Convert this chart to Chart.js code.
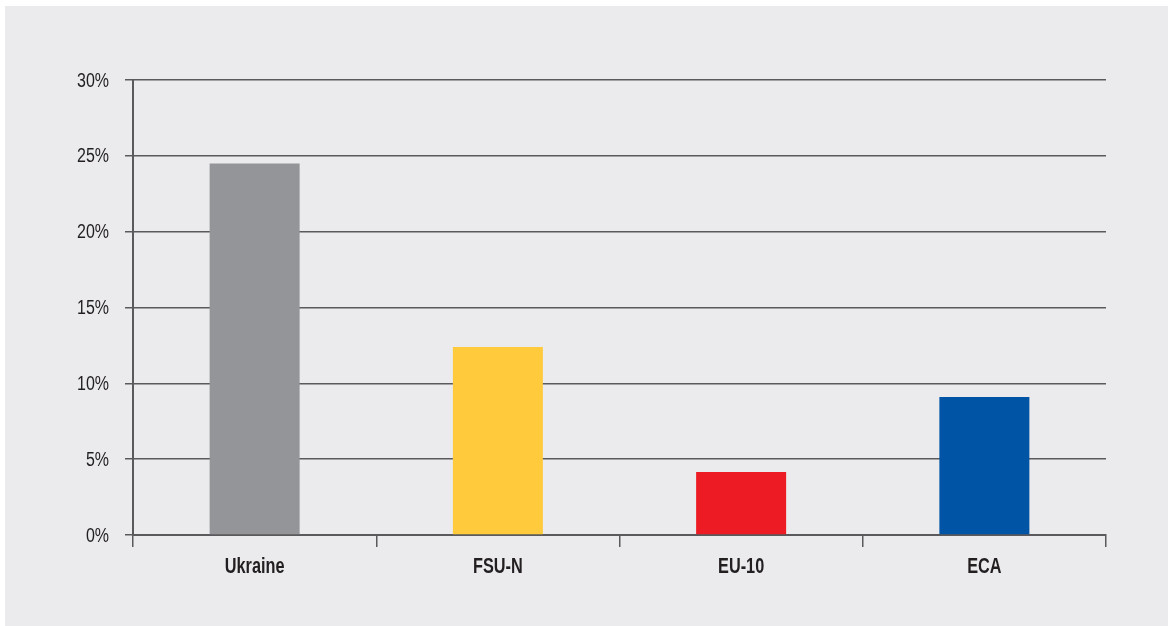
<!DOCTYPE html>
<html lang="en">
<head>
    <meta charset="UTF-8">
    <script src="https://cdn.jsdelivr.net/npm/chart.js"></script>
    <title>Share by region</title>
    <style>
        body { margin: 0; background: #ffffff; }
        .wrap { padding: 6px 0 0 5px; }
        #bars { display: block; background: #ebebed; }
    </style>
</head>
<body>
    <div class="wrap">
        <canvas id="bars" width="1163" height="620"></canvas>
    </div>

    <script>
        const regions = ['Ukraine', 'FSU-N', 'EU-10', 'ECA'];
        const shares = [24.5, 12.4, 4.15, 9.1];
        const barColors = ['#939598', '#ffcb3d', '#ed1c24', '#0054a6'];
        const yTicks = [0, 5, 10, 15, 20, 25, 30];

        const lineColor = '#5a5a5c';
        const textColor = '#231f20';
        const fontFamily = '"Liberation Sans", Arial, sans-serif';

        // tick labels drawn squeezed sideways, to get a condensed look
        const narrowLabels = {
            id: 'narrowLabels',
            afterDraw(chart) {
                const c = chart.ctx;
                const area = chart.chartArea;
                const x = chart.scales.x;
                const y = chart.scales.y;
                c.save();
                c.fillStyle = textColor;
                c.textBaseline = 'middle';

                c.font = 'bold 22px ' + fontFamily;
                c.textAlign = 'center';
                x.ticks.forEach((t, i) => {
                    c.save();
                    c.translate(x.getPixelForTick(i), area.bottom + 32);
                    c.scale(0.74, 1);
                    c.fillText(regions[i], 0, 0);
                    c.restore();
                });

                c.font = '20px ' + fontFamily;
                c.textAlign = 'right';
                y.ticks.forEach((t, i) => {
                    c.save();
                    c.translate(area.left - 24, y.getPixelForTick(i) + 1);
                    c.scale(0.8, 1);
                    c.fillText(t.value + '%', 0, 0);
                    c.restore();
                });
                c.restore();
            }
        };

        const ctx = document.getElementById('bars').getContext('2d');
        new Chart(ctx, {
            type: 'bar',
            data: {
                labels: regions,
                datasets: [{
                    data: shares,
                    backgroundColor: barColors,
                    borderWidth: 0,
                    barPercentage: 0.37,
                    categoryPercentage: 1
                }]
            },
            options: {
                responsive: false,
                animation: false,
                layout: { padding: { top: 74, right: 62, bottom: 0, left: 0 } },
                plugins: { legend: { display: false }, tooltip: { enabled: false } },
                scales: {
                    x: {
                        afterFit: s => { s.height = 91; },
                        grid: {
                            offset: true,
                            drawOnChartArea: false,
                            drawTicks: true,
                            tickLength: 12,
                            color: lineColor,
                            lineWidth: 1.5
                        },
                        border: { color: lineColor, width: 2 },
                        ticks: { color: 'rgba(0,0,0,0)', font: { family: fontFamily, size: 19 } }
                    },
                    y: {
                        min: 0,
                        max: 30,
                        afterFit: s => { s.width = 128; },
                        afterBuildTicks: s => { s.ticks = yTicks.map(v => ({ value: v })); },
                        grid: {
                            color: lineColor,
                            lineWidth: 1.5,
                            tickLength: 8
                        },
                        border: { color: lineColor, width: 2 },
                        ticks: {
                            color: 'rgba(0,0,0,0)',
                            font: { family: fontFamily, size: 19 },
                            callback: v => v + '%'
                        }
                    }
                }
            },
            plugins: [narrowLabels]
        });
    </script>
</body>
</html>
